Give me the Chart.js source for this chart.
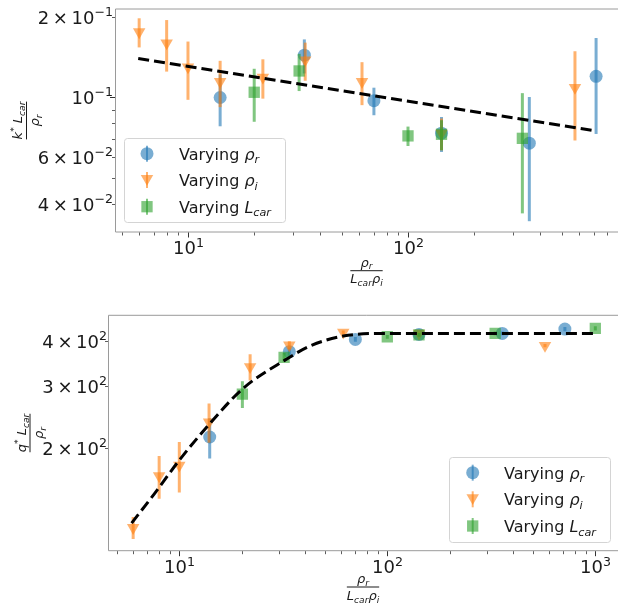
<!DOCTYPE html>
<html>
<head>
<meta charset="utf-8">
<script src="https://cdn.jsdelivr.net/npm/chart.js@4.4.0/dist/chart.umd.min.js"></script>
<style>
  html, body { margin: 0; padding: 0; background: #fff; width: 618px; height: 606px; overflow: hidden; }
  .panel { position: absolute; left: 0; }
  #topPanel { top: 0; }
  #botPanel { top: 300px; }
</style>
</head>
<body>
<div class="panel" id="topPanel"><canvas id="kChart" width="625" height="300"></canvas></div>
<div class="panel" id="botPanel"><canvas id="qChart" width="625" height="306"></canvas></div>
<script>
// ---- top panel: k* L_car / rho_r ----
const kBlueX = [14, 33.8, 70, 142, 356, 716];
const kBlueY = [0.100, 0.144, 0.0973, 0.0735, 0.0674, 0.120];
const kBlueErr = [0.022, 0.021, 0.0115, 0.011, 0.033, 0.047];
const kOrangeX = [6, 8, 10, 14, 21.9, 34.1, 61.8, 142, 574];
const kOrangeY = [0.176, 0.160, 0.130, 0.1146, 0.119, 0.138, 0.1146, 0.0734, 0.109];
const kOrangeErr = [0.022, 0.035, 0.032, 0.0226, 0.020, 0.0225, 0.021, 0.010, 0.040];
const kGreenX = [20, 32, 100, 142, 331];
const kGreenY = [0.1046, 0.1257, 0.0718, 0.0728, 0.0703];
const kGreenErr = [0.0235, 0.020, 0.006, 0.0094, 0.0335];
const kFitX = [5.94, 716];
const kFitY = [0.140, 0.0749];

const kXTicks = [5, 6, 7, 8, 9, 10, 20, 30, 40, 50, 60, 70, 80, 90, 100, 200, 300, 400, 500, 600, 700, 800, 900];
const kXTickLabels = ['', '', '', '', '', '10^1', '', '', '', '', '', '', '', '', '10^2', '', '', '', '', '', '', '', ''];
const kYTicks = [0.04, 0.05, 0.06, 0.07, 0.08, 0.09, 0.1, 0.2];
const kYTickLabels = ['4×10^-2', '', '6×10^-2', '', '', '', '10^-1', '2×10^-1'];

// ---- bottom panel: q* L_car / rho_r ----
const qBlueX = [14, 33.8, 70.2, 142, 357, 714];
const qBlueY = [215, 374, 405, 418, 421, 433];
const qBlueErr = [28, 10, 6, 5, 5, 6];
const qOrangeX = [6, 8, 10, 13.9, 21.9, 33.8, 61.4, 142, 573];
const qOrangeY = [119.4, 167, 179, 237, 339, 390, 424, 421, 389];
const qOrangeErr = [8.5, 23, 29, 30, 29, 10, 5, 5, 4];
const qGreenX = [20.1, 31.9, 100, 142, 330, 1000];
const qGreenY = [284, 360.6, 412, 417, 421, 435];
const qGreenErr = [24.6, 10, 5, 5, 5, 6];
const qFitX = [5.9, 7.6, 10, 13.8, 20.3, 32.2, 42.5, 61.4, 100, 1000];
const qFitY = [123, 149, 185, 232, 295, 354, 388, 414, 421, 421];

const qXTicks = [5, 6, 7, 8, 9, 10, 20, 30, 40, 50, 60, 70, 80, 90, 100, 200, 300, 400, 500, 600, 700, 800, 900, 1000];
const qXTickLabels = ['', '', '', '', '', '10^1', '', '', '', '', '', '', '', '', '10^2', '', '', '', '', '', '', '', '', '10^3'];
const qYTicks = [200, 300, 400];
const qYTickLabels = ['2×10^2', '3×10^2', '4×10^2'];

const blue = 'rgba(31,119,180,0.6)';
const orange = 'rgba(255,127,14,0.6)';
const green = 'rgba(44,160,44,0.6)';
const FONT = "'DejaVu Sans'";
const TEXT = '#1a1a1a';

function pts(xs, ys) {
  return xs.map((x, i) => ({ x: x, y: ys[i] }));
}

// small mathtext-ish writer: parts = [text, italic, 'sub'|'sup']
function mathWidth(ctx, parts, size) {
  let w = 0;
  parts.forEach(p => {
    const s = p[2] ? size * 0.7 : size;
    ctx.font = (p[1] ? 'italic ' : '') + s + 'px ' + FONT;
    w += ctx.measureText(p[0]).width;
  });
  return w;
}

function drawMath(ctx, parts, x, y, size) {
  ctx.textBaseline = 'alphabetic';
  ctx.textAlign = 'left';
  parts.forEach(p => {
    const s = p[2] ? size * 0.7 : size;
    ctx.font = (p[1] ? 'italic ' : '') + s + 'px ' + FONT;
    let dy = 0;
    if (p[2] === 'sub') dy = size * 0.22;
    if (p[2] === 'sup') dy = -size * 0.4;
    ctx.fillText(p[0], x, y + dy);
    x += ctx.measureText(p[0]).width;
  });
  return x;
}

// tick label like "4×10^-2" -> 4 × 10 with raised exponent
function tickParts(label) {
  const bits = label.split('^');
  const parts = [];
  const base = bits[0].split('×');
  if (base.length > 1) {
    parts.push([base[0], false]);
    parts.push(['\u2009×\u2009', false]);
    parts.push([base[1], false]);
  } else {
    parts.push([base[0], false]);
  }
  if (bits[1]) parts.push([bits[1].replace('-', '\u2212'), false, 'sup']);
  return parts;
}

function drawFrac(ctx, num, den, cx, cy, size, rotate) {
  ctx.save();
  ctx.translate(cx, cy);
  if (rotate) ctx.rotate(-Math.PI / 2);
  ctx.fillStyle = TEXT;
  const wn = mathWidth(ctx, num, size);
  const wd = mathWidth(ctx, den, size);
  const w = Math.max(wn, wd);
  drawMath(ctx, num, -wn / 2, -size * 0.32, size);
  drawMath(ctx, den, -wd / 2, size * 0.98, size);
  ctx.fillRect(-w / 2, -0.5, w, 1);
  ctx.restore();
}

const rhoLabel = [['ρ', true], ['r', true, 'sub']];
const xLabelDen = [['L', true], ['car', true, 'sub'], ['ρ', true], ['i', true, 'sub']];
const legendLabels = [
  [['Varying ', false], ['ρ', true], ['r', true, 'sub']],
  [['Varying ', false], ['ρ', true], ['i', true, 'sub']],
  [['Varying ', false], ['L', true], ['car', true, 'sub']]
];
const legendStyles = [
  { color: blue, pointStyle: 'circle', radius: 6.5, rotation: 0 },
  { color: orange, pointStyle: 'triangle', radius: 7.2, rotation: 180 },
  { color: green, pointStyle: 'rect', radius: 8, rotation: 0 }
];

function isDecade(v) {
  const l = Math.log10(v);
  return Math.abs(l - Math.round(l)) < 1e-9;
}

const decorPlugin = {
  id: 'decor',
  beforeDatasetDraw(chart, args) {
    const ds = chart.data.datasets[args.index];
    if (!ds.errors) return;
    const ctx = chart.ctx;
    const xs = chart.scales.x, ys = chart.scales.y;
    const a = chart.chartArea;
    ctx.save();
    ctx.beginPath();
    ctx.rect(a.left, a.top, a.right - a.left, a.bottom - a.top);
    ctx.clip();
    ctx.strokeStyle = ds.pointBackgroundColor;
    ctx.lineWidth = 3;
    ds.data.forEach((p, i) => {
      const px = xs.getPixelForValue(p.x);
      ctx.beginPath();
      ctx.moveTo(px, ys.getPixelForValue(p.y + ds.errors[i]));
      ctx.lineTo(px, ys.getPixelForValue(p.y - ds.errors[i]));
      ctx.stroke();
    });
    ctx.restore();
  },
  afterDraw(chart, args, opts) {
    const ctx = chart.ctx;
    const a = chart.chartArea;
    const xs = chart.scales.x, ys = chart.scales.y;
    ctx.save();
    // spines
    ctx.strokeStyle = '#9a9a9a';
    ctx.lineWidth = 1;
    ctx.beginPath();
    ctx.moveTo(a.left - 0.5, a.top);
    ctx.lineTo(a.right, a.top);
    ctx.moveTo(a.left - 0.5, a.top);
    ctx.lineTo(a.left - 0.5, a.bottom);
    ctx.lineTo(a.right, a.bottom);
    ctx.stroke();
    // tick marks + labels
    ctx.strokeStyle = '#333';
    xs.ticks.forEach((t, i) => {
      const px = Math.round(xs.getPixelForValue(t.value)) + 0.5;
      const len = isDecade(t.value) ? 5 : 3;
      ctx.lineWidth = isDecade(t.value) ? 1 : 0.8;
      ctx.beginPath();
      ctx.moveTo(px, a.bottom + 0.5);
      ctx.lineTo(px, a.bottom + 0.5 + len);
      ctx.stroke();
      const lab = opts.xLabels[i];
      if (lab) {
        const parts = tickParts(lab);
        ctx.fillStyle = TEXT;
        drawMath(ctx, parts, px - mathWidth(ctx, parts, 18) / 2, a.bottom + 22, 18);
      }
    });
    ys.ticks.forEach((t, i) => {
      const py = Math.round(ys.getPixelForValue(t.value)) + 0.5;
      const len = isDecade(t.value) ? 5 : 3;
      ctx.lineWidth = isDecade(t.value) ? 1 : 0.8;
      ctx.beginPath();
      ctx.moveTo(a.left - 1, py);
      ctx.lineTo(a.left - 1 - len, py);
      ctx.stroke();
      const lab = opts.yLabels[i];
      if (lab) {
        const parts = tickParts(lab);
        ctx.fillStyle = TEXT;
        drawMath(ctx, parts, a.left - opts.yGap - mathWidth(ctx, parts, 18), py + 6, 18);
      }
    });
    // axis labels
    drawFrac(ctx, rhoLabel, xLabelDen, opts.xLabel[0], opts.xLabel[1], 13, false);
    drawFrac(ctx, opts.yNum, rhoLabel, opts.yLabel[0], opts.yLabel[1], 13, true);
    // legend
    const L = opts.legend;
    ctx.fillStyle = 'rgba(255,255,255,0.8)';
    ctx.strokeStyle = '#d4d4d4';
    ctx.lineWidth = 1;
    ctx.beginPath();
    ctx.roundRect(L.x + 0.5, L.y + 0.5, L.w, L.h, 3);
    ctx.fill();
    ctx.stroke();
    legendStyles.forEach((st, i) => {
      const cy = L.y + L.rows[i];
      const mx = L.x + L.markerX;
      ctx.strokeStyle = st.color;
      ctx.lineWidth = 2;
      ctx.beginPath();
      ctx.moveTo(mx, cy - 8);
      ctx.lineTo(mx, cy + 8);
      ctx.stroke();
      ctx.fillStyle = st.color;
      Chart.helpers.drawPoint(ctx, { pointStyle: st.pointStyle, radius: st.radius, rotation: st.rotation, borderWidth: 0 }, mx, cy + (st.pointStyle === 'triangle' ? -1.5 : 0));
      ctx.fillStyle = TEXT;
      drawMath(ctx, legendLabels[i], L.x + L.textX, cy + 6, 16);
    });
    ctx.restore();
  }
};

function scatterSet(xs, ys, errs, color, style, radius, order) {
  return {
    data: pts(xs, ys),
    errors: errs,
    pointStyle: style,
    pointRadius: radius,
    pointRotation: style === 'triangle' ? 180 : 0,
    pointBackgroundColor: color,
    pointBorderWidth: 0,
    pointBorderColor: 'rgba(0,0,0,0)',
    showLine: false,
    clip: 0,
    order: order
  };
}

function fitSet(xs, ys, curved) {
  return {
    data: pts(xs, ys),
    showLine: true,
    borderColor: '#000',
    borderWidth: 3,
    borderDash: [11, 5],
    pointRadius: 0,
    cubicInterpolationMode: curved ? 'monotone' : 'default',
    clip: 0,
    order: 0
  };
}

function makeChart(canvasId, cfg) {
  return new Chart(document.getElementById(canvasId), {
    type: 'scatter',
    data: {
      datasets: [
        scatterSet(cfg.blueX, cfg.blueY, cfg.blueErr, blue, 'circle', 6.5, 3),
        scatterSet(cfg.orangeX, cfg.orangeY, cfg.orangeErr, orange, 'triangle', 7.2, 2),
        scatterSet(cfg.greenX, cfg.greenY, cfg.greenErr, green, 'rect', 8, 1),
        fitSet(cfg.fitX, cfg.fitY, cfg.curved)
      ]
    },
    options: {
      responsive: false,
      animation: false,
      events: [],
      layout: { autoPadding: false, padding: { top: cfg.padTop, left: 0, right: 0, bottom: 0 } },
      plugins: {
        legend: { display: false },
        tooltip: { enabled: false },
        decor: cfg.decor
      },
      scales: {
        x: {
          type: 'logarithmic',
          bounds: 'data',
          min: cfg.xMin,
          max: cfg.xMax,
          grid: { display: false, drawTicks: false },
          border: { display: false },
          ticks: { display: false, autoSkip: false, maxRotation: 0 },
          afterBuildTicks: s => { s.ticks = cfg.xTicks.map(v => ({ value: v })); },
          afterFit: s => { s.height = cfg.xHeight; s.paddingLeft = 0; s.paddingRight = 0; }
        },
        y: {
          type: 'logarithmic',
          bounds: 'data',
          min: cfg.yMin,
          max: cfg.yMax,
          grid: { display: false, drawTicks: false },
          border: { display: false },
          ticks: { display: false, autoSkip: false },
          afterBuildTicks: s => { s.ticks = cfg.yTicks.map(v => ({ value: v })); },
          afterFit: s => { s.width = cfg.yWidth; s.paddingTop = 0; s.paddingBottom = 0; }
        }
      }
    },
    plugins: [decorPlugin]
  });
}

makeChart('kChart', {
  blueX: kBlueX, blueY: kBlueY, blueErr: kBlueErr,
  orangeX: kOrangeX, orangeY: kOrangeY, orangeErr: kOrangeErr,
  greenX: kGreenX, greenY: kGreenY, greenErr: kGreenErr,
  fitX: kFitX, fitY: kFitY, curved: false,
  xTicks: kXTicks, yTicks: kYTicks,
  xMin: 4.708, xMax: 969, yMin: 0.03134, yMax: 0.2145,
  padTop: 9, xHeight: 68, yWidth: 116,
  decor: {
    xLabels: kXTickLabels, yLabels: kYTickLabels, yGap: 3,
    xLabel: [366.5, 270.7],
    yLabel: [26.5, 120.5],
    yNum: [['k', true], ['*', false, 'sup'], [' ', false], ['L', true], ['car', true, 'sub']],
    legend: { x: 124, y: 138, w: 161, h: 84, markerX: 23, textX: 55, rows: [15.7, 42, 68.7] }
  }
});

makeChart('qChart', {
  blueX: qBlueX, blueY: qBlueY, blueErr: qBlueErr,
  orangeX: qOrangeX, orangeY: qOrangeY, orangeErr: qOrangeErr,
  greenX: qGreenX, greenY: qGreenY, greenErr: qGreenErr,
  fitX: qFitX, fitY: qFitY, curved: true,
  xTicks: qXTicks, yTicks: qYTicks,
  xMin: 4.592, xMax: 1389, yMin: 102.85, yMax: 473.5,
  padTop: 15.3, xHeight: 55.3, yWidth: 109,
  decor: {
    xLabels: qXTickLabels, yLabels: qYTickLabels, yGap: 2,
    xLabel: [363, 287],
    yLabel: [30, 133],
    yNum: [['q', true], ['*', false, 'sup'], [' ', false], ['L', true], ['car', true, 'sub']],
    legend: { x: 449, y: 157, w: 161, h: 85, markerX: 23.7, textX: 55, rows: [15.7, 42.3, 69] }
  }
});
</script>
</body>
</html>
